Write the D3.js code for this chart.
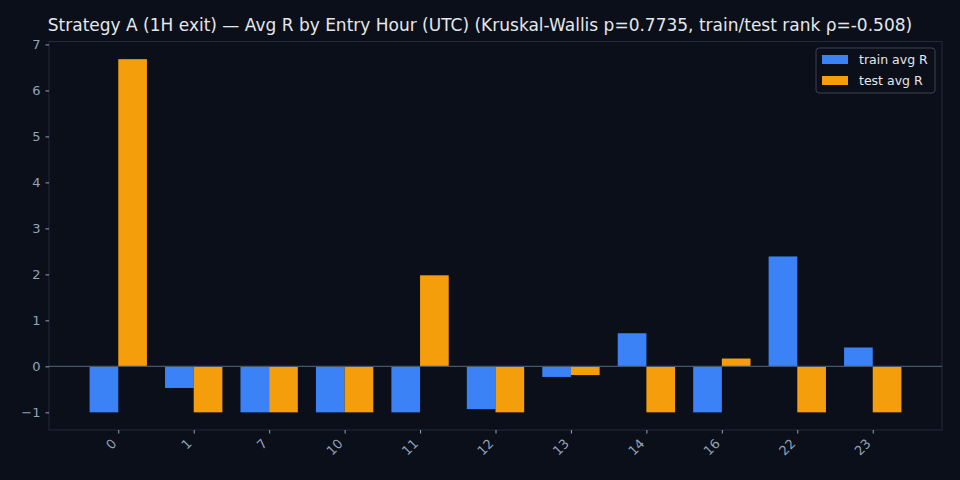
<!DOCTYPE html>
<html>
<head>
<meta charset="utf-8">
<script src="https://cdn.jsdelivr.net/npm/d3@7"></script>
<style>
  body { margin: 0; background: #0b0f19; }
  text { font-family: "DejaVu Sans", sans-serif; }
</style>
</head>
<body>
<div id="canvas"></div>
<script>
"use strict"

// data
let hours = ["0", "1", "7", "10", "11", "12", "13", "14", "16", "22", "23"];
let trainAvg = [-1, -0.47, -1, -1, -1, -0.93, -0.23, 0.72, -1, 2.39, 0.41];
let testAvg = [6.68, -1, -1, -1, 1.98, -1, -0.19, -1, 0.17, -1, -1];
let yTicks = [-1, 0, 1, 2, 3, 4, 5, 6, 7];

let W = 960, H = 480;
let plotLeft = 49, plotRight = 942, plotTop = 41.5, plotBottom = 430;
let barW = 0.38;

let drawing = d3.select("#canvas")
  .append("svg")
  .attr("width", W)
  .attr("height", H);

drawing.append("rect")
  .attr("width", W).attr("height", H)
  .attr("fill", "#0b0f19");

// x in "index units" like matplotlib, with 5% margins
let lo = -barW, hi = hours.length - 1 + barW;
let pad = (hi - lo) * 0.05;
let x = d3.scaleLinear().domain([lo - pad, hi + pad]).range([plotLeft, plotRight]);

let allVals = trainAvg.concat(testAvg).concat([0]);
let yMin = d3.min(allVals), yMax = d3.max(allVals);
let yPad = (yMax - yMin) * 0.05;
let y = d3.scaleLinear().domain([yMin - yPad, yMax + yPad]).range([plotBottom, plotTop]);

// axes background
drawing.append("rect")
  .attr("x", plotLeft).attr("y", plotTop)
  .attr("width", plotRight - plotLeft).attr("height", plotBottom - plotTop)
  .attr("fill", "#0b0f19")
  .attr("stroke", "#232b3a")
  .attr("stroke-width", 1);

// bars
drawing.append("g").selectAll("rect")
  .data(trainAvg)
  .join("rect")
  .attr("x", (d, i) => x(i - barW))
  .attr("width", x(barW) - x(0))
  .attr("y", d => y(Math.max(0, d)))
  .attr("height", d => Math.abs(y(d) - y(0)))
  .attr("fill", "#3b82f6");

drawing.append("g").selectAll("rect")
  .data(testAvg)
  .join("rect")
  .attr("x", (d, i) => x(i))
  .attr("width", x(barW) - x(0))
  .attr("y", d => y(Math.max(0, d)))
  .attr("height", d => Math.abs(y(d) - y(0)))
  .attr("fill", "#f59e0b");

// zero line
drawing.append("line")
  .attr("x1", plotLeft).attr("x2", plotRight)
  .attr("y1", y(0)).attr("y2", y(0))
  .attr("stroke", "#475569")
  .attr("stroke-width", 1.2);

// y axis
let yAxis = drawing.append("g")
  .attr("transform", `translate(${plotLeft},0)`)
  .call(d3.axisLeft(y).tickValues(yTicks).tickSize(3.5).tickPadding(5)
    .tickFormat(d => d < 0 ? "\u2212" + Math.abs(d) : d));
yAxis.select(".domain").remove();
yAxis.selectAll("line").attr("stroke", "#94a3b8");
yAxis.selectAll("text").attr("fill", "#94a3b8").attr("font-size", 13)
  .attr("font-family", "DejaVu Sans");

// x axis, labels rotated 45deg and right-aligned to the tick
let xAxis = drawing.append("g")
  .attr("transform", `translate(0,${plotBottom})`)
  .call(d3.axisBottom(x).tickValues(d3.range(hours.length)).tickSize(3.5)
    .tickFormat(i => hours[i]));
xAxis.select(".domain").remove();
xAxis.selectAll("line").attr("stroke", "#94a3b8");
xAxis.selectAll("text")
  .attr("fill", "#94a3b8")
  .attr("font-size", 13)
  .attr("font-family", "DejaVu Sans")
  .attr("text-anchor", "end")
  .attr("dy", null)
  .attr("y", 0)
  .attr("transform", "translate(-4,12) rotate(-45)")
  .attr("dominant-baseline", "middle");

// title
drawing.append("text")
  .attr("x", W / 2).attr("y", 31)
  .attr("text-anchor", "middle")
  .attr("fill", "#e5e7eb")
  .attr("font-size", 17)
  .text("Strategy A (1H exit) \u2014 Avg R by Entry Hour (UTC) (Kruskal-Wallis p=0.7735, train/test rank \u03c1=-0.508)");

// legend
let legend = drawing.append("g").attr("transform", "translate(816,48)");
legend.append("rect")
  .attr("width", 119).attr("height", 45)
  .attr("rx", 3)
  .attr("fill", "#0b0f19")
  .attr("stroke", "#3a4252")
  .attr("stroke-width", 1);
let legendItems = [["train avg R", "#3b82f6"], ["test avg R", "#f59e0b"]];
legendItems.forEach((it, i) => {
  legend.append("rect")
    .attr("x", 6).attr("y", 7 + i * 21)
    .attr("width", 26).attr("height", 9)
    .attr("fill", it[1]);
  legend.append("text")
    .attr("x", 43).attr("y", 16 + i * 21)
    .attr("fill", "#e5e7eb")
    .attr("font-size", 12.5)
    .text(it[0]);
});
</script>
</body>
</html>
